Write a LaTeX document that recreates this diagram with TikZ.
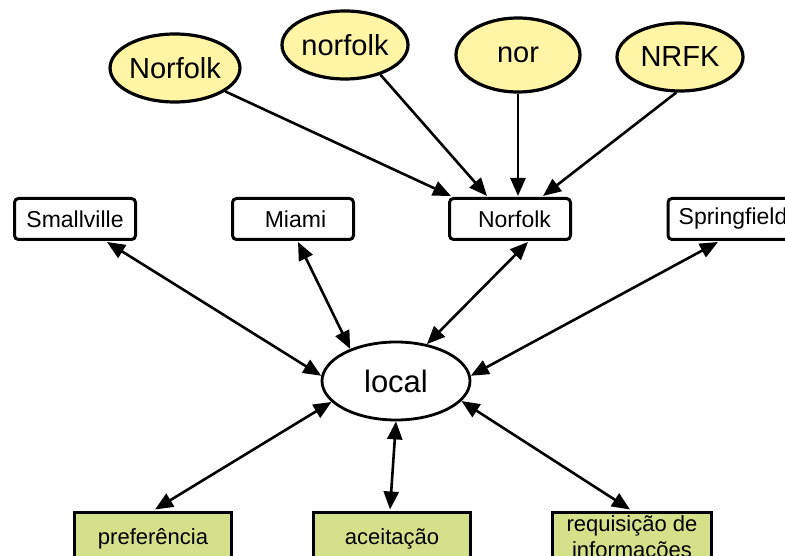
\documentclass[tikz,border=0pt]{standalone}
\usepackage{fontspec}
\setmainfont{Liberation Sans}
\usetikzlibrary{shapes.geometric,arrows.meta,calc}
\definecolor{termfill}{RGB}{255,245,165}
\definecolor{ctxfill}{RGB}{212,225,138}
\begin{document}
\begin{tikzpicture}[x=1pt,y=-1pt,
  term/.style={ellipse,draw,line width=3.2pt,fill=termfill,inner sep=0pt,
    minimum width=126pt,minimum height=68pt,font=\fontsize{29}{29}\selectfont},
  place/.style={rectangle,draw,line width=3pt,rounded corners=4pt,fill=white,
    inner sep=0pt,minimum width=121pt,minimum height=41pt,font=\fontsize{23}{23}\selectfont},
  ctx/.style={rectangle,draw,line width=3pt,fill=ctxfill,inner sep=0pt,
    minimum width=157pt,minimum height=54pt,align=center,
    font=\fontsize{22}{26}\selectfont},
  hub/.style={ellipse,draw,line width=2.8pt,fill=white,inner sep=0pt,
    minimum width=148pt,minimum height=78pt,font=\fontsize{31}{31}\selectfont},
  link/.style={line width=2.6pt,-{Triangle[length=18pt,width=15pt]}},
  bilink/.style={line width=2.6pt,{Triangle[length=18pt,width=15pt]}-{Triangle[length=18pt,width=15pt]}}]
\clip (0,0) rectangle (785,556);
\fill[white] (0,0) rectangle (785,556);

% spelling variants
\node[term] (n1) at (175,68) {Norfolk};
\node[term] (n2) at (345,45) {norfolk};
\node[term,minimum width=124pt,minimum height=74pt] (n3) at (518,55) {\raisebox{-2pt}{nor}};
\node[term] (n4) at (680,57) {NRFK};

% places
\node[place] (sv) at (75,219) {Smallville};
\node[place] (mi) at (293,219) {\hspace{5pt}Miami};
\node[place] (nf) at (510,219) {\hspace{9pt}Norfolk};
\node[place,minimum width=124pt] (sp) at (730,219) {\hspace{6pt}Springfield};

% central concept
\node[hub] (loc) at (396,381) {local};

% contexts
\node[ctx] (pref) at (153,539) {preferência};
\node[ctx] (acc) at (392,539) {aceitação};
\node[ctx,minimum width=159pt] (req) at (632,539) {requisição de\\informações};

% variants to the canonical name
\draw[link] (n1.-25) -- ($(nf.north west)+(3,-1)$);
\draw[link] (n2.-40) -- ($(nf.north)+(-23,-1)$);
\draw[link] (n3.south) -- ($(nf.north)+(8,-1)$);
\draw[link] (n4.-96) -- ($(nf.north)+(33,-1)$);

% places and local
\draw[bilink] ($(sv.south)+(32,1)$) -- (loc.176);
\draw[bilink] ($(mi.south)+(5,1)$) -- (loc.145);
\draw[bilink] ($(nf.south)+(18,1)$) -- (loc.50);
\draw[bilink] ($(sp.south)+(-12,1)$) -- (loc.4);

% local and contexts
\draw[bilink] (loc.198) -- ($(pref.north)+(2,-1)$);
\draw[bilink] (loc.south) -- ($(acc.north)+(-2,-1)$);
\draw[bilink] (loc.-17) -- ($(req.north)+(-2,-1)$);
\end{tikzpicture}
\end{document}
